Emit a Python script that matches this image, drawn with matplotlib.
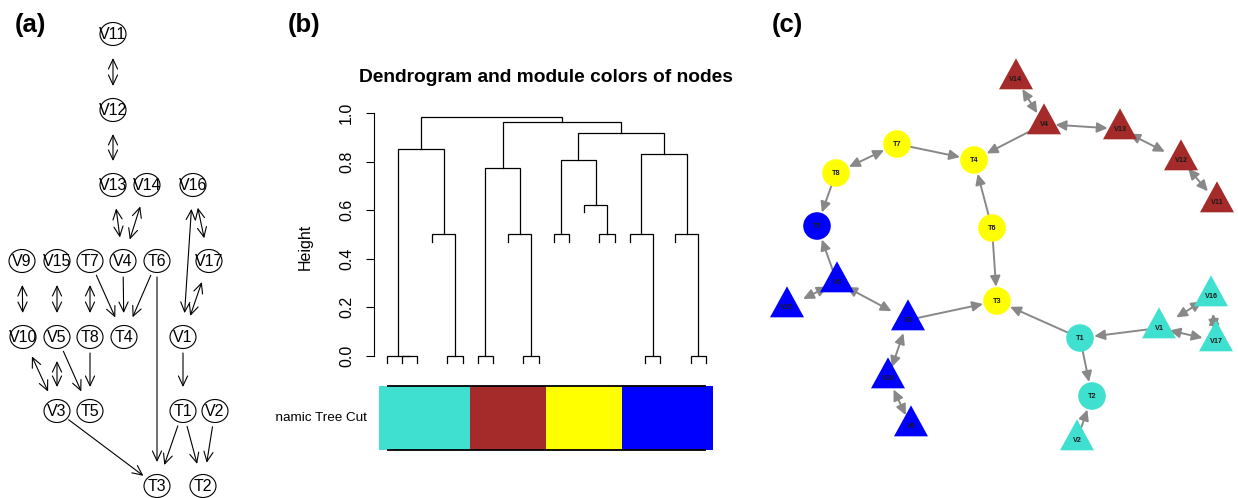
import numpy as np
import matplotlib
matplotlib.use("Agg")
import matplotlib.pyplot as plt
from matplotlib.patches import Ellipse, Circle, Polygon, FancyArrowPatch, ArrowStyle

plt.rcParams['font.family'] = ['Liberation Sans', 'DejaVu Sans']

# ---------------- data ----------------
node_names = ["V1", "V2", "V3", "V4", "V5", "V9", "V10", "V11", "V12", "V13", "V14",
              "V15", "V16", "V17", "T1", "T2", "T3", "T4", "T5", "T6", "T7", "T8"]
# module (colour) of every node
node_module = ["turquoise", "turquoise", "blue", "brown", "blue", "blue", "blue", "brown",
               "brown", "brown", "brown", "blue", "turquoise", "turquoise", "turquoise",
               "turquoise", "yellow", "yellow", "blue", "yellow", "yellow", "yellow"]
# panel (a): layered layout (pixel coordinates)
a_x = [183, 215, 57, 123, 57, 22, 23, 113, 113, 113, 147, 57, 193, 209, 183, 203, 157, 124, 90, 157, 90, 90]
a_y = [337, 411, 411, 261, 337, 261, 337, 34, 110, 185, 185, 261, 185, 261, 411, 486, 486, 337, 411, 261, 261, 337]
# panel (c): network layout (pixel coordinates)
c_x = [1159, 1077, 908, 1044, 837, 911, 888, 1217, 1181, 1120, 1016, 787, 1211, 1216,
       1080, 1092, 997, 974, 817, 992, 897, 836]
c_y = [328, 440, 320, 124, 282, 426, 378, 202, 160, 129, 79, 307, 296, 341,
       338, 396, 301, 160, 226, 228, 144, 173]
# edges: (source, target, bidirected)
edges = [("V11", "V12", True), ("V12", "V13", True), ("V13", "V4", True), ("V14", "V4", True),
         ("V16", "V1", True), ("V16", "V17", True), ("V17", "V1", True),
         ("V9", "V10", True), ("V15", "V5", True), ("T7", "T8", True),
         ("T7", "T4", False), ("V4", "T4", False), ("T6", "T4", False), ("T6", "T3", False),
         ("V10", "V3", True), ("V5", "V3", True), ("V5", "T5", False), ("T8", "T5", False),
         ("V1", "T1", False), ("V3", "T3", False), ("T1", "T3", False), ("T1", "T2", False),
         ("V2", "T2", False)]

# panel (b): hierarchical clustering (R hclust convention: negative = leaf)
merge_left = [-2, -1, -5, -7, -10, -18, -21, -4, -9, -12, -15, -17, -20, -14, 4, 10, 12, 2, 16, 15, 18]
merge_right = [-3, 1, -6, -8, -11, -19, -22, 3, 5, -13, -16, 6, 7, 11, 9, 14, 13, 8, 17, 19, 20]
merge_height = [0, 0, 0, 0, 0, 0, 0, 0.5, 0.5, 0.5, 0.5, 0.5, 0.5, 0.623, 0.776, 0.806,
                0.831, 0.851, 0.920, 0.966, 0.983]
leaf_modules = ["turquoise"] * 6 + ["brown"] * 5 + ["yellow"] * 5 + ["blue"] * 6
hang = 0.03
yticks = [0.0, 0.2, 0.4, 0.6, 0.8, 1.0]

module_colors = {"turquoise": "#40E0D0", "brown": "#A52A2A", "yellow": "#FFFF00", "blue": "#0000FF"}

# ---------------- figure ----------------
W, H = 1238, 498
fig = plt.figure(figsize=(W / 100, H / 100), dpi=100)


def fig_rect(x0, y0, x1, y1):
    return [x0 / W, 1 - y1 / H, (x1 - x0) / W, (y1 - y0) / H]


ov = fig.add_axes([0, 0, 1, 1])
ov.set_xlim(0, W)
ov.set_ylim(H, 0)
ov.axis('off')
ov.patch.set_visible(False)

idx = {n: i for i, n in enumerate(node_names)}

# panel labels
for lab, px in [("(a)", 15), ("(b)", 288), ("(c)", 772)]:
    ov.text(px, 31.5, lab, fontsize=18.5, fontweight='bold', ha='left', va='baseline')

# ---------------- panel (a) ----------------
def ell_r(dx, dy, rx, ry):
    n = np.hypot(dx, dy)
    ux, uy = dx / n, dy / n
    return 1.0 / np.sqrt((ux / rx) ** 2 + (uy / ry) ** 2)

for s, t, both in edges:
    x0, y0 = a_x[idx[s]], a_y[idx[s]]
    x1, y1 = a_x[idx[t]], a_y[idx[t]]
    dx, dy = x1 - x0, y1 - y0
    L = np.hypot(dx, dy)
    ux, uy = dx / L, dy / L
    r_head = ell_r(dx, dy, 15, 24)
    r_tail = r_head if both else ell_r(dx, dy, 14, 16)
    pA = (x0 + ux * r_tail, y0 + uy * r_tail)
    pB = (x1 - ux * r_head, y1 - uy * r_head)
    style = ArrowStyle('<->' if both else '->', head_length=7, head_width=3.3)
    ov.add_patch(FancyArrowPatch(pA, pB, arrowstyle=style, mutation_scale=1,
                                 shrinkA=0, shrinkB=0, lw=0.8, color='black'))

for i, n in enumerate(node_names):
    ov.add_patch(Ellipse((a_x[i], a_y[i]), 26, 23, fill=False, ec='black', lw=0.8))
    ov.text(a_x[i], a_y[i], n, fontsize=11.5, ha='center', va='center')

# ---------------- panel (b) ----------------
n_leaf = len(leaf_modules)
axd = fig.add_axes(fig_rect(379.1, 101.2, 713.3, 379.9))
axd.set_xlim(0.5, n_leaf + 0.5)
axd.set_ylim(-0.1, 1.05)
axd.patch.set_visible(False)
mx, mh = {}, {}
for k, (l, r, h) in enumerate(zip(merge_left, merge_right, merge_height), start=1):
    pts = []
    for c in (l, r):
        if c < 0:
            pts.append((-c, h - hang))
        else:
            pts.append((mx[c], mh[c]))
    (xl, yl), (xr, yr) = pts
    axd.plot([xl, xl, xr, xr], [yl, h, h, yr], color='black', lw=0.9,
             solid_joinstyle='miter', clip_on=False)
    mx[k] = (xl + xr) / 2
    mh[k] = h
for sp in ['top', 'right', 'bottom']:
    axd.spines[sp].set_visible(False)
axd.spines['left'].set_bounds(0, 1)
axd.spines['left'].set_position(('outward', 3.6))
axd.spines['left'].set_linewidth(0.8)
axd.set_xticks([])
axd.set_yticks(yticks)
axd.set_yticklabels([f"{v:.1f}" for v in yticks], rotation=90, va='center')
axd.tick_params(axis='y', direction='out', length=5.8, width=0.8, pad=8.5, labelsize=11.5)

ov.text(305, 247, "Height", rotation=90, fontsize=11.5, ha='center', va='center')
ov.text(546, 81.5, "Dendrogram and module colors of nodes", fontsize=13.8,
        fontweight='bold', ha='center', va='baseline')

# colour bar
axc = fig.add_axes(fig_rect(379.1, 386, 713.3, 450))
axc.set_xlim(0.5, n_leaf + 0.5)
axc.set_ylim(0, 1)
leaves = np.arange(1, n_leaf + 1)
axc.bar(leaves, 1, width=1.0, bottom=0, color=[module_colors[m] for m in leaf_modules],
        linewidth=0, align='center')
axc.hlines([0, 1], 1, n_leaf, color='black', lw=1.3, clip_on=False)
axc.axis('off')

axl = fig.add_axes(fig_rect(275, 386, 379, 450))
axl.axis('off')
axl.text((367 - 275) / 104, 0.5, "Dynamic Tree Cut", transform=axl.transAxes,
         fontsize=9.7, ha='right', va='center', clip_on=True)

# ---------------- panel (c) ----------------
TRI_W, TRI_H, CIRC_R = 34, 31, 13.8


def tri_rel():
    return [(0, -2 * TRI_H / 3), (-TRI_W / 2, TRI_H / 3), (TRI_W / 2, TRI_H / 3)]


def bdist(name, dx, dy):
    if name.startswith("T"):
        return CIRC_R
    n = np.hypot(dx, dy)
    d = np.array([dx / n, dy / n])
    v = [np.array(p) for p in tri_rel()]
    best = np.inf
    for a, b in [(v[0], v[1]), (v[1], v[2]), (v[2], v[0])]:
        e = b - a
        den = d[0] * e[1] - d[1] * e[0]
        if abs(den) < 1e-9:
            continue
        t = (a[0] * e[1] - a[1] * e[0]) / den
        s = (a[0] * d[1] - a[1] * d[0]) / den
        if t > 0 and -1e-6 <= s <= 1 + 1e-6:
            best = min(best, t)
    return best

for s, t, both in edges:
    x0, y0 = c_x[idx[s]], c_y[idx[s]]
    x1, y1 = c_x[idx[t]], c_y[idx[t]]
    dx, dy = x1 - x0, y1 - y0
    L = np.hypot(dx, dy)
    ux, uy = dx / L, dy / L
    rB = bdist(t, dx, dy) + 0.5
    rA = bdist(s, -dx, -dy) + 0.5 if both else 0
    pA = (x0 + ux * rA, y0 + uy * rA)
    pB = (x1 - ux * rB, y1 - uy * rB)
    style = ArrowStyle('<|-|>' if both else '-|>', head_length=6.3, head_width=3.0)
    ov.add_patch(FancyArrowPatch(pA, pB, arrowstyle=style, mutation_scale=1,
                                 shrinkA=0, shrinkB=0, lw=1.4, color='#888888', zorder=2))

for i, n in enumerate(node_names):
    col = module_colors[node_module[i]]
    cx, cy = c_x[i], c_y[i]
    if n.startswith("T"):
        ov.add_patch(Circle((cx, cy), CIRC_R, fc=col, ec='none', zorder=3))
    else:
        ov.add_patch(Polygon([(cx + px, cy + py) for px, py in tri_rel()], closed=True,
                             fc=col, ec='none', zorder=3))
    ov.text(cx, cy, n, fontsize=5.2, fontweight='bold', color='#1a1a1a',
            ha='center', va='center', zorder=4)

fig.savefig("out.png", dpi=100)
